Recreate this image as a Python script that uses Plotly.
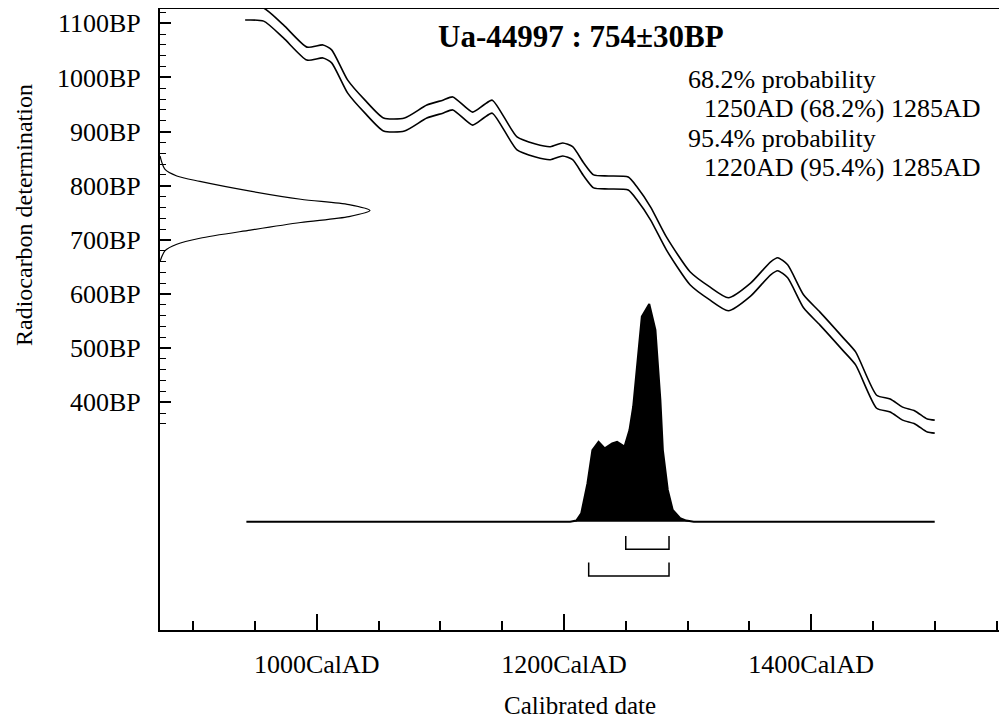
import plotly.graph_objects as go

# --- данные ---
# калибровочная кривая (год н.э., радиоуглеродный возраст BP), сигма
cal_year = [942, 957, 973, 992, 1005, 1012, 1025, 1039, 1054, 1071, 1089, 1102, 1110, 1126, 1135,
            1142, 1162, 1177, 1189, 1199, 1207, 1216, 1224, 1236, 1252, 1259, 1270, 1283, 1302,
            1318, 1333, 1351, 1367, 1373, 1381, 1394, 1407, 1426, 1436, 1453, 1464, 1474, 1484,
            1494, 1500]
cal_bp = [1118, 1116, 1085, 1044, 1048, 1039, 983, 946, 913, 913, 937, 946, 952, 924, 937,
          946, 878, 865, 860, 867, 860, 830, 808, 806, 804, 786, 749, 693, 629,
          601, 581, 608, 647, 655, 642, 586, 555, 507, 481, 401, 394, 379, 372,
          357, 355]
cal_err = 12

# измерение Ua-44997 (кривая слева)
rc_bp = [855, 830, 818, 808, 790, 775, 765, 754, 743, 732, 718, 703, 692, 680, 660]
rc_prob = [0, 0.024, 0.08, 0.19, 0.43, 0.67, 0.90, 1.0, 0.90, 0.67, 0.43, 0.19, 0.08, 0.024, 0]

# калиброванное распределение
hist_year = [943, 1205, 1210, 1214, 1219, 1223, 1228, 1233, 1239, 1243, 1249, 1253, 1256, 1259,
             1263, 1269, 1274, 1278, 1280, 1284, 1288, 1294, 1299, 1305, 1500]
hist_prob = [0, 0, 0.005, 0.039, 0.176, 0.329, 0.367, 0.337, 0.360, 0.367, 0.345, 0.421, 0.528,
             0.697, 0.942, 1.0, 0.881, 0.559, 0.329, 0.146, 0.054, 0.016, 0.005, 0, 0]

# интервалы
range68 = [1250, 1285]
range95 = [1220, 1285]

x_ticks = [1000, 1200, 1400]
x_labels = ['1000CalAD', '1200CalAD', '1400CalAD']
x_minor = [900, 950, 1050, 1100, 1150, 1250, 1300, 1350, 1450, 1500, 1550]
y_ticks = [400, 500, 600, 700, 800, 900, 1000, 1100]
y_labels = ['400BP', '500BP', '600BP', '700BP', '800BP', '900BP', '1000BP', '1100BP']
y_minor = list(range(360, 1121, 20))

title_text = 'Ua-44997 : 754±30BP'
info_lines = ['68.2% probability', '1250AD (68.2%) 1285AD',
              '95.4% probability', '1220AD (95.4%) 1285AD']

FONT = 'Liberation Serif'

# у страницы свой отступ 8px, поэтому фигура меньше окна
OFF = 8
W, H = 1007 - OFF, 724 - OFF
# область графика в пикселях окна
PL, PR, PT, PB = 160, 1007, 9, 630


def paper(x, y):
    return (x - PL) / (PR - PL), (PB - y) / (PB - PT)


fig = go.Figure()

# калибровочная кривая: две линии +-сигма
fig.add_trace(go.Scatter(x=cal_year, y=[b + cal_err for b in cal_bp], mode='lines',
                         line=dict(color='black', width=1.6, shape='spline', smoothing=0.6)))
fig.add_trace(go.Scatter(x=cal_year, y=[b - cal_err for b in cal_bp], mode='lines',
                         line=dict(color='black', width=1.6, shape='spline', smoothing=0.6)))

# распределение измерения на оси Y
fig.add_trace(go.Scatter(x=rc_prob, y=rc_bp, mode='lines', xaxis='x2', yaxis='y',
                         line=dict(color='black', width=1.2, shape='spline', smoothing=0.8)))

# калиброванная плотность
fig.add_trace(go.Scatter(x=hist_year, y=hist_prob, mode='lines', xaxis='x', yaxis='y2',
                         fill='tozeroy', fillcolor='black',
                         line=dict(color='black', width=2)))

# скобки интервалов
for rng, top, bottom in [(range68, -0.066, -0.127), (range95, -0.188, -0.249)]:
    fig.add_trace(go.Scatter(x=[rng[0], rng[0], rng[1], rng[1]], y=[top, bottom, bottom, top],
                             mode='lines', xaxis='x', yaxis='y2',
                             line=dict(color='black', width=1.5)))

ann = []
tx, ty = paper(581, 37)
ann.append(dict(text='<b>' + title_text + '</b>', x=tx, y=ty, xref='paper', yref='paper',
                xanchor='center', yanchor='middle', showarrow=False,
                font=dict(family=FONT, size=31, color='black')))
for text, px_, py_ in zip(info_lines, [686, 702, 686, 702], [80, 108, 138, 167]):
    ax, ay = paper(px_, py_)
    ann.append(dict(text=text, x=ax, y=ay, xref='paper', yref='paper',
                    xanchor='left', yanchor='middle', showarrow=False,
                    font=dict(family=FONT, size=26, color='black')))
ax, ay = paper(580, 705)
ann.append(dict(text='Calibrated date', x=ax, y=ay, xref='paper', yref='paper',
                xanchor='center', yanchor='middle', showarrow=False,
                font=dict(family=FONT, size=25, color='black')))
ax, ay = paper(24, 215)
ann.append(dict(text='Radiocarbon determination', x=ax, y=ay, xref='paper', yref='paper',
                xanchor='center', yanchor='middle', showarrow=False, textangle=-90,
                font=dict(family=FONT, size=24, color='black')))

fig.update_layout(
    width=W, height=H,
    margin=dict(l=PL - OFF, r=1007 - PR, t=PT - OFF, b=724 - PB),
    plot_bgcolor='white', paper_bgcolor='white',
    showlegend=False,
    font=dict(family=FONT, size=26, color='black'),
    annotations=ann,
    xaxis=dict(range=[873.1, 1558.5], tickvals=x_ticks, ticktext=x_labels,
               ticks='inside', ticklen=16, tickwidth=1.5, tickcolor='black',
               ticklabelstandoff=10,
               minor=dict(tickvals=x_minor, ticks='inside', ticklen=9, tickwidth=1.5,
                          tickcolor='black'),
               showline=True, linewidth=2, linecolor='black', mirror=True,
               showgrid=False, zeroline=False,
               tickfont=dict(family=FONT, size=26, color='black')),
    yaxis=dict(range=[-20.6, 1126.4], tickvals=y_ticks, ticktext=y_labels,
               ticks='inside', ticklen=11, tickwidth=1.5, tickcolor='black',
               ticklabelstandoff=12,
               minor=dict(tickvals=y_minor, ticks='inside', ticklen=6, tickwidth=1.2,
                          tickcolor='black'),
               showline=True, linewidth=2, linecolor='black',
               showgrid=False, zeroline=False,
               tickfont=dict(family=FONT, size=26, color='black')),
    xaxis2=dict(range=[0, 847 / 210], overlaying='x', anchor='y', visible=False),
    yaxis2=dict(range=[-0.4975, 2.355], overlaying='y', anchor='x', visible=False),
)

fig.write_html("out.html")
